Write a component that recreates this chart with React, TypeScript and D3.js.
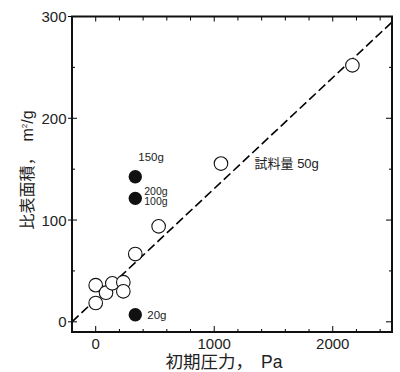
import React from "react";
import * as d3 from "d3";

const openX = [0, 0, 87, 140, 233, 233, 334, 531, 1057, 2166];
const openY = [36, 18.5, 28.6, 37.8, 39, 30, 66.6, 93.8, 155.5, 252];
const filledX = [334, 334, 334];
const filledY = [142.6, 121.3, 7];
const filledLabels = ["150g", "200g\n100g", "20g"];
const fitLineX = [-200, 2500];
const fitLineY = [0, 294.5];
const fitLabel = "試料量 50g";
const xMajorTicks = [0, 1000, 2000];
const yMajorTicks = [0, 100, 200, 300];

const W = 400;
const H = 372;
const L = 72, R = 392, T = 16.5, B = 332;
const FONT = "'Liberation Sans', Arial, 'Noto Sans CJK JP', sans-serif";

export default function App() {
  const x = d3.scaleLinear().domain([-200, 2500]).range([L, R]);
  const y = d3.scaleLinear().domain([-10, 300]).range([B, T]);
  const xMinor = d3.range(-200, 2501, 200).filter((v) => v > -200 && v < 2500 && v % 1000 !== 0);
  const yMinor = d3.range(0, 300, 50).filter((v) => v % 100 !== 0);
  const line = d3.line<[number, number]>().x((d) => x(d[0])).y((d) => y(d[1]));
  const linePts: [number, number][] = fitLineX.map((v, i) => [v, fitLineY[i]]);

  return (
    <svg width={W} height={H} style={{ position: "absolute", left: 0, top: 0 }}>
      <rect width={W} height={H} fill="#fff" />
      <path d={line(linePts) || ""} fill="none" stroke="#000" strokeWidth={1.6} strokeDasharray="9,4" />
      {xMajorTicks.map((v) => (
        <g key={"xm" + v}>
          <line x1={x(v)} x2={x(v)} y1={B} y2={B - 6} stroke="#000" strokeWidth={1} />
          <line x1={x(v)} x2={x(v)} y1={T} y2={T + 5} stroke="#000" strokeWidth={1} />
          <text x={x(v)} y={348.5} fontSize={15} fontFamily={FONT} textAnchor="middle" fill="#222">{v}</text>
        </g>
      ))}
      {xMinor.map((v) => (
        <g key={"xn" + v}>
          <line x1={x(v)} x2={x(v)} y1={B} y2={B - 3} stroke="#000" strokeWidth={1} />
          <line x1={x(v)} x2={x(v)} y1={T} y2={T + 4} stroke="#000" strokeWidth={1} />
        </g>
      ))}
      {yMajorTicks.map((v) => (
        <g key={"ym" + v}>
          <line x1={L - 4} x2={L + 5} y1={y(v)} y2={y(v)} stroke="#000" strokeWidth={1} />
          <line x1={R} x2={R - 6} y1={y(v)} y2={y(v)} stroke="#000" strokeWidth={1} />
          <text x={66.5} y={y(v) + 5.5} fontSize={15} fontFamily={FONT} textAnchor="end" fill="#222">{v}</text>
        </g>
      ))}
      {yMinor.map((v) => (
        <g key={"yn" + v}>
          <line x1={L} x2={L + 3} y1={y(v)} y2={y(v)} stroke="#000" strokeWidth={1} />
          <line x1={R} x2={R - 3} y1={y(v)} y2={y(v)} stroke="#000" strokeWidth={1} />
        </g>
      ))}
      <rect x={L} y={T} width={R - L} height={B - T} fill="none" stroke="#111" strokeWidth={2} />
      {openX.map((v, i) => (
        <circle key={"o" + i} cx={x(v)} cy={y(openY[i])} r={6.8} fill="#fff" stroke="#111" strokeWidth={1.1} />
      ))}
      {filledX.map((v, i) => (
        <circle key={"f" + i} cx={x(v)} cy={y(filledY[i])} r={6.7} fill="#111" />
      ))}
      <text x={x(filledX[0]) + 3} y={y(filledY[0]) - 16} fontSize={11.5} fontFamily={FONT} fill="#222">{filledLabels[0]}</text>
      {filledLabels[1].split("\n").map((t, k) => (
        <text key={"l" + k} x={x(filledX[1]) + 9} y={y(filledY[1]) - 3.5 + k * 10.5} fontSize={10.5} fontFamily={FONT} fill="#222">{t}</text>
      ))}
      <text x={x(filledX[2]) + 12} y={y(filledY[2]) + 4.5} fontSize={11.5} fontFamily={FONT} fill="#222">{filledLabels[2]}</text>
      <text x={x(1340)} y={y(156) + 5} fontSize={13} fontFamily={FONT} fill="#222">{fitLabel}</text>
      <text x={224} y={367.5} fontSize={17.5} fontFamily={FONT} textAnchor="middle" fill="#222">
        初期圧力，<tspan dx={8}>Pa</tspan>
      </text>
      <text transform="translate(32.5,170) rotate(-90)" fontSize={16} fontFamily={FONT} textAnchor="middle" fill="#222">
        比表面積，<tspan dx={8}>m</tspan><tspan dy={-6} fontSize={8}>2</tspan><tspan dy={6}>/g</tspan>
      </text>
    </svg>
  );
}
